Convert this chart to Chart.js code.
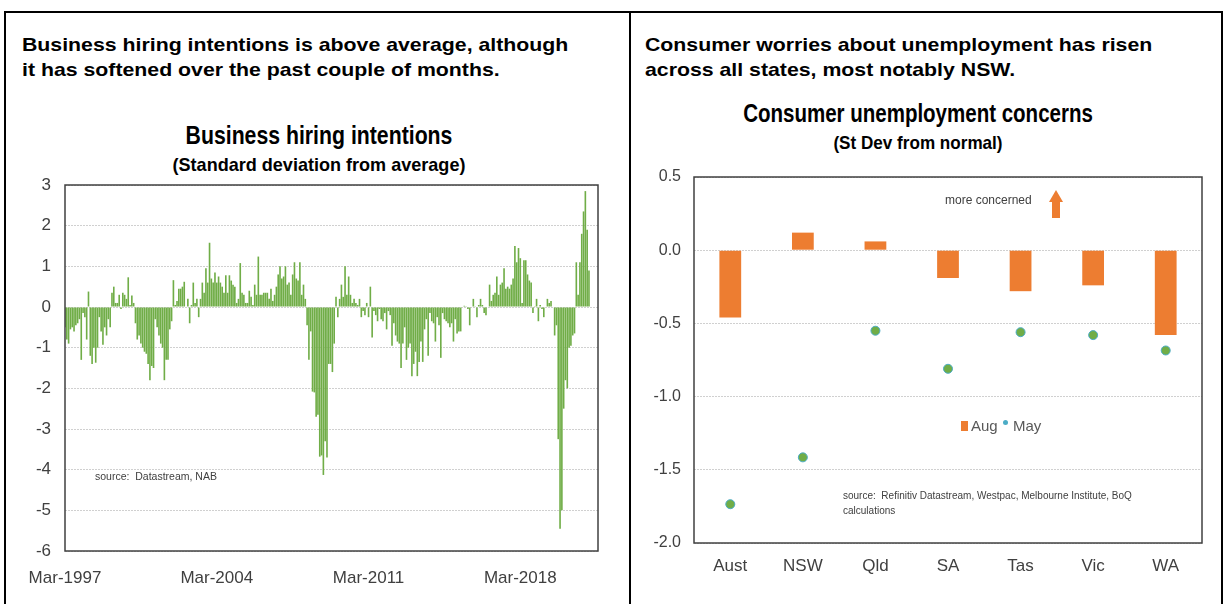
<!DOCTYPE html>
<html>
<head>
<meta charset="utf-8">
<script src="https://cdn.jsdelivr.net/npm/chart.js@4.4.1/dist/chart.umd.min.js"></script>
<style>
  body { margin: 0; background: #fff; }
  #page { position: relative; width: 1226px; height: 604px; overflow: hidden; background: #fff; font-family: "Liberation Sans", Arial, sans-serif; }
  .frame { position: absolute; box-sizing: border-box; border: 2px solid #000; }
  .note { position: absolute; font-weight: bold; font-size: 19px; line-height: 25px; color: #000; white-space: nowrap; transform: scaleX(1.12); transform-origin: 0 0; }
  .txt { position: absolute; white-space: nowrap; color: #000; }
  .ttl { font-weight: bold; text-align: center; transform-origin: 50% 0; }
  .box { position: absolute; }
</style>
</head>
<body>
<div id="page">
  <div class="frame" style="left:4px; top:11px; width:1219px; height:700px;"></div>
  <div class="frame" style="left:629px; top:11px; width:2px; height:700px; border-width:0 0 0 2px;"></div>

  <div class="note" style="left:22px; top:32px;">Business hiring intentions is above average, although<br>it has softened over the past couple of months.</div>
  <div class="note" style="left:645px; top:32px;">Consumer worries about unemployment has risen<br>across all states, most notably NSW.</div>

  <div class="txt ttl" style="left:19px; width:600px; top:123px; font-size:25px; line-height:25px; transform:scaleX(0.85);">Business hiring intentions</div>
  <div class="txt ttl" style="left:19px; width:600px; top:155px; font-size:19px; line-height:19px; transform:scaleX(0.95);">(Standard deviation from average)</div>

  <div class="txt ttl" style="left:618px; width:600px; top:101px; font-size:25px; line-height:25px; transform:scaleX(0.82);">Consumer unemployment concerns</div>
  <div class="txt ttl" style="left:618px; width:600px; top:133px; font-size:19px; line-height:19px; transform:scaleX(0.9);">(St Dev from normal)</div>

  <div class="box" style="left:15px; top:175px;"><canvas id="hiring" width="600" height="425"></canvas></div>
  <div class="box" style="left:640px; top:165px;"><canvas id="concerns" width="580" height="435"></canvas></div>

  <div class="txt" style="left:95px; top:470px; font-size:10.5px; color:#404040;">source:&nbsp;&nbsp;Datastream, NAB</div>
  <div class="txt" style="left:843px; top:488px; font-size:10px; line-height:15px; color:#404040;">source:&nbsp;&nbsp;Refinitiv Datastream, Westpac, Melbourne Institute, BoQ<br>calculations</div>

  <div class="txt" style="left:945px; top:193px; font-size:12px; color:#404040;">more concerned</div>
  <div class="box" style="left:1049px; top:190px; width:0; height:0; border-left:7px solid transparent; border-right:7px solid transparent; border-bottom:12px solid #ED7D31;"></div>
  <div class="box" style="left:1052px; top:201px; width:8px; height:17px; background:#ED7D31;"></div>

  <div class="box" style="left:961px; top:421px; width:7px; height:10px; background:#ED7D31;"></div>
  <div class="txt" style="left:971px; top:417px; font-size:15px; color:#595959;">Aug</div>
  <div class="box" style="left:1003px; top:420px; width:5px; height:5px; border-radius:50%; background:#4BACC6;"></div>
  <div class="txt" style="left:1013px; top:417px; font-size:15px; color:#595959;">May</div>
</div>

<script>
// Business hiring intentions, monthly from Mar-1997 (std dev from average)
const hiringValues = [
  -0.5, -0.8, -0.9, -0.55, -0.5, -0.6, -0.45, -0.4, -0.3, -1.3, -0.15, -0.25,
  -0.8, 0.38, -1.2, -1.4, -1.0, -1.37, -1.0, -0.25, -0.6, -0.93, -0.5, -0.7,
  -0.3, -0.5, 0.35, 0.5, 0.1, 0.1, 0.3, -0.05, 0.35, 0.3, 0.2, 0.73,
  0.05, 0.28, 0.1, -0.4, -0.8, -0.7, -0.9, -1.0, -1.1, -1.15, -1.4, -1.8,
  -1.45, -1.5, -0.3, -0.5, -0.7, -0.9, -1.0, -1.8, -1.3, -1.3, -0.55, -0.35,
  0.66, 0.05, 0.15, 0.45, 0.45, 0.5, 0.62, 0.0, 0.2, -0.4, 0.05, 0.6,
  0.1, 0.2, -0.25, 0.2, 0.6, 0.35, 0.95, 0.6, 1.58, 0.7, 0.6, 0.85,
  0.6, 0.75, 0.6, 0.5, 0.35, 0.78, 0.35, 0.78, 0.65, 0.55, 0.5, 0.1,
  0.2, 1.08, 0.35, 0.3, 0.1, 0.1, 0.4, 0.25, 0.05, 0.55, 0.3, 1.24,
  0.3, 0.3, 0.35, 0.35, 0.35, 0.2, 0.45, 0.15, 0.3, 0.5, 0.8, 1.0,
  0.7, 0.75, 1.0, 0.55, 0.6, 0.3, 0.8, 1.1, 0.7, 0.65, 1.1, 0.3,
  0.55, 0.2, -0.45, -1.3, -0.6, -2.08, -2.1, -2.7, -2.65, -3.68, -3.65, -4.13,
  -3.3, -3.7, -1.4, -1.4, -1.6, -0.9, 0.25, -0.25, 0.2, 0.55, 0.25, 1.0,
  0.3, 0.75, 0.3, 0.1, 0.2, 0.1, 0.05, 0.2, -0.25, -0.1, -0.2, 0.1,
  -0.25, 0.5, -0.75, -0.1, -0.2, -0.35, -0.05, -0.3, -0.35, -0.15, -0.55, -0.1,
  -0.2, -0.95, -0.4, -0.7, -0.85, -0.9, -1.5, -0.9, -0.5, -1.3, -1.0, -0.9,
  -1.7, -1.4, -1.1, -1.7, -1.35, -0.85, -1.35, -0.55, -0.3, -1.2, -0.15, -0.35,
  -0.4, -0.85, -0.25, -0.45, -1.25, -0.15, -0.3, -0.35, -0.4, -0.5, -0.4, -0.85,
  -0.3, -0.65, -0.6, -0.6, 0.0, 0.03, 0.02, -0.05, -0.45, 0.0, 0.2, 0.02,
  -0.25, 0.05, 0.2, 0.05, -0.15, -0.2, 0.0, 0.55, 0.15, 0.3, 0.35, 0.75,
  0.3, 0.55, 0.6, 0.95, 0.45, 0.5, 0.45, 0.55, 0.7, 1.5, 1.1, 1.45,
  1.2, 0.1, 1.15, 1.15, 0.8, 0.65, 0.6, -0.15, 0.02, 0.2, -0.35, 0.05,
  -0.05, -0.25, 0.0, 0.2, 0.1, 0.15, 0.0, -0.7, -0.45, -3.25, -5.45, -5.0,
  -2.5, -1.8, -2.0, -1.0, -0.95, -0.7, -0.65, 1.1, 0.3, 1.1, 1.8, 2.35,
  2.85, 1.9, 0.9
];
const xTickLabels = ['Mar-1997', 'Mar-2004', 'Mar-2011', 'Mar-2018'];
const monthCount = 296;

// Consumer unemployment concerns by state
const states = ['Aust', 'NSW', 'Qld', 'SA', 'Tas', 'Vic', 'WA'];
const augValues = [-0.46, 0.12, 0.06, -0.19, -0.28, -0.24, -0.58];
const mayValues = [-1.735, -1.415, -0.55, -0.81, -0.56, -0.58, -0.685];

const monthNames = ['Jan','Feb','Mar','Apr','May','Jun','Jul','Aug','Sep','Oct','Nov','Dec'];
const monthLabels = [];
for (let i = 0; i < monthCount; i++) {
  const m = (2 + i) % 12;
  const y = 1997 + Math.floor((2 + i) / 12);
  monthLabels.push(monthNames[m] + '-' + y);
}

const tickFont = '"Liberation Sans", Arial, sans-serif';

// dark box round the plot area
const plotFrame = {
  id: 'plotFrame',
  afterDraw(chart) {
    const a = chart.chartArea;
    const c = chart.ctx;
    c.save();
    c.strokeStyle = '#404040';
    c.lineWidth = 1.5;
    c.strokeRect(a.left, a.top, a.right - a.left, a.bottom - a.top);
    c.restore();
  }
};

// stop the scales from pushing the plot area in
function noPad(s) {
  s.paddingTop = 0;
  s.paddingBottom = 0;
  s.paddingLeft = 0;
  s.paddingRight = 0;
}

new Chart(document.getElementById('hiring'), {
  type: 'bar',
  data: {
    labels: monthLabels,
    datasets: [{
      data: hiringValues,
      backgroundColor: '#70AD47',
      barPercentage: 0.9,
      categoryPercentage: 1
    }]
  },
  options: {
    responsive: false,
    animation: false,
    layout: { padding: { top: 10, right: 17, left: 0, bottom: 0 } },
    plugins: { legend: { display: false }, tooltip: { enabled: false } },
    scales: {
      x: {
        offset: false,
        grid: { display: false, drawTicks: false },
        border: { display: false },
        ticks: {
          autoSkip: false, maxRotation: 0, minRotation: 0, padding: 17,
          color: '#404040', font: { family: tickFont, size: 17 },
          callback: function(v, i) {
            return xTickLabels.includes(monthLabels[i]) ? monthLabels[i] : null;
          }
        },
        afterFit: function(s) { s.height = 49; noPad(s); }
      },
      y: {
        min: -6, max: 3,
        grid: { color: '#d0d0d0', drawTicks: false },
        border: { display: false, dash: [2, 1] },
        ticks: { stepSize: 1, padding: 14, color: '#404040', font: { family: tickFont, size: 17 } },
        afterFit: function(s) { s.width = 50; noPad(s); }
      }
    }
  },
  plugins: [plotFrame]
});

new Chart(document.getElementById('concerns'), {
  type: 'bar',
  data: {
    labels: states,
    datasets: [
      {
        type: 'bar', label: 'Aug', data: augValues, order: 2,
        backgroundColor: '#ED7D31', barPercentage: 0.3, categoryPercentage: 1
      },
      {
        type: 'line', label: 'May', data: mayValues, order: 1, showLine: false,
        pointRadius: 4.5, pointBackgroundColor: '#70AD47',
        pointBorderColor: '#4BACC6', pointBorderWidth: 1
      }
    ]
  },
  options: {
    responsive: false,
    animation: false,
    layout: { padding: { top: 12, right: 18, left: 0, bottom: 0 } },
    plugins: { legend: { display: false }, tooltip: { enabled: false } },
    scales: {
      x: {
        grid: { display: false, drawTicks: false },
        border: { display: false },
        ticks: { padding: 13, color: '#404040', font: { family: tickFont, size: 17 } },
        afterFit: function(s) { s.height = 57; noPad(s); }
      },
      y: {
        min: -2, max: 0.5,
        grid: { color: '#d0d0d0', drawTicks: false },
        border: { display: false, dash: [2, 1] },
        ticks: {
          stepSize: 0.5, padding: 13, color: '#404040', font: { family: tickFont, size: 16 },
          callback: function(v) { return v.toFixed(1); }
        },
        afterFit: function(s) { s.width = 54; noPad(s); }
      }
    }
  },
  plugins: [plotFrame]
});
</script>
</body>
</html>
